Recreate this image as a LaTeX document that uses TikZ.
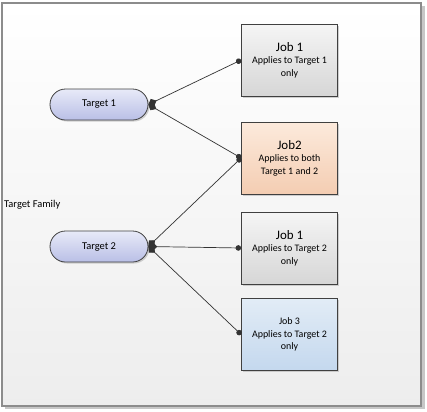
\documentclass[tikz,border=0pt]{standalone}
\usepackage{fontspec}
\setmainfont{Carlito}
\usetikzlibrary{arrows.meta,shadows}
\definecolor{edge}{HTML}{404040}
\definecolor{wire}{HTML}{333333}
\tikzset{
  jobbox/.style={draw=edge, line width=0.8bp, minimum width=96bp, minimum height=72bp,
    inner sep=0pt, align=center, font=\fontsize{10}{12.5}\selectfont,
    drop shadow={shadow xshift=1.5bp, shadow yshift=-1.5bp, fill=black!30, opacity=0.6}},
  targetbox/.style={draw=edge, line width=0.8bp, rounded corners=15.5bp, minimum width=98bp,
    minimum height=31bp, inner sep=0pt, font=\fontsize{10.5}{12}\selectfont,
    top color=targettop, bottom color=targetbot,
    drop shadow={shadow xshift=1.5bp, shadow yshift=-1.5bp, fill=black!30, opacity=0.6}},
  link/.style={draw=wire, line width=0.7bp, {Diamond[length=9bp,width=8bp]}-{Circle[length=5.5bp]}},
}
\definecolor{targettop}{HTML}{E8EAF8}
\definecolor{targetbot}{HTML}{B9BFE6}
\begin{document}
\begin{tikzpicture}[x=1bp,y=-1bp]
\useasboundingbox (0,0) rectangle (427,412);
\fill[black!22] (5,6) rectangle (425,409);
\shade[top color=white, bottom color=black!7, draw=black!45, line width=1.2bp] (2,3) rectangle (421,406);
\node[font=\fontsize{10.5}{12}\selectfont, anchor=west, inner sep=0pt] (fam) at (4,205) {Target Family};
\node[targetbox] (t1) at (99,104.5) {Target 1};
\node[targetbox] (t2) at (99,246.5) {Target 2};
\node[jobbox, top color=black!4, bottom color=black!16] (j1) at (289.5,60)
  {{\fontsize{13}{15}\selectfont Job 1}\\Applies to Target 1\\only};
\node[jobbox, top color={rgb,255:red,252;green,234;blue,220}, bottom color={rgb,255:red,244;green,205;blue,178}] (j2) at (289.5,158)
  {{\fontsize{13}{15}\selectfont Job2}\\Applies to both\\Target 1 and 2};
\node[jobbox, top color=black!4, bottom color=black!16] (j3) at (289.5,248)
  {{\fontsize{13}{15}\selectfont Job 1}\\Applies to Target 2\\only};
\node[jobbox, top color={rgb,255:red,226;green,236;blue,246}, bottom color={rgb,255:red,196;green,216;blue,238}] (j4) at (289.5,334.5)
  {Job 3\\Applies to Target 2\\only};
\draw[link] (t1.east) -- (j1.west);
\draw[link] (t1.east) -- (j2.west);
\draw[link] (t2.east) -- (j2.west);
\draw[link] (t2.east) -- (j3.west);
\draw[link] (t2.east) -- (j4.west);
\end{tikzpicture}
\end{document}
